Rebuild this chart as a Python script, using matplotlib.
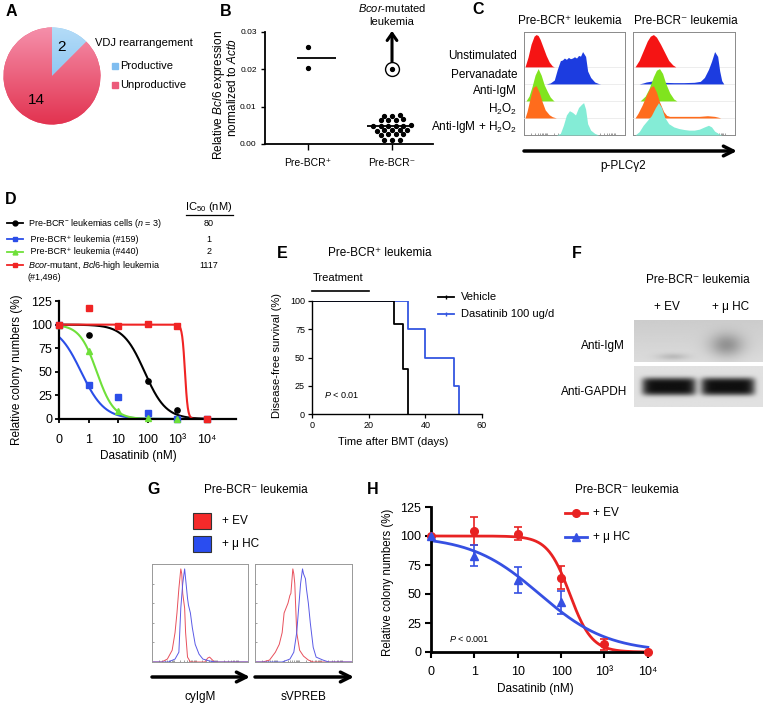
import numpy as np
import matplotlib
matplotlib.use('Agg')
import matplotlib.pyplot as plt
import matplotlib.transforms as mtransforms
from matplotlib.colors import LinearSegmentedColormap
from matplotlib.patches import Rectangle

plt.rcParams['font.family'] = ['Liberation Sans', 'DejaVu Sans']
plt.rcParams['mathtext.fontset'] = 'custom'
plt.rcParams['mathtext.rm'] = 'Liberation Sans'
plt.rcParams['mathtext.it'] = 'Liberation Sans:italic'
plt.rcParams['mathtext.bf'] = 'Liberation Sans:bold'

# ---- data ----
# A: VDJ rearrangement
vdj_labels = ['Productive', 'Unproductive']
vdj_counts = [2, 14]

# B: Bcl6 expression
bcr_pos_vals = [0.0260, 0.0203]
bcr_neg_vals = [0.0076, 0.0077, 0.0075,
                0.0065, 0.0066, 0.0064, 0.0065,
                0.0049, 0.0049, 0.0050, 0.0048, 0.0049, 0.0049,
                0.0037, 0.0036, 0.0037, 0.0038, 0.0037,
                0.0026, 0.0027, 0.0026, 0.0025,
                0.0012, 0.0011, 0.0012]
bcor_mut_val = 0.0202

# C: p-PLCg2 flow histograms, (position, relative height)
c_rows = ['Unstimulated', 'Pervanadate', 'Anti-IgM', 'H$_2$O$_2$', 'Anti-IgM + H$_2$O$_2$']
pos_unstim = [(0.01, 0), (0.04, 0.3), (0.07, 0.7), (0.10, 0.95), (0.12, 1.0), (0.14, 0.97), (0.16, 0.85),
              (0.19, 0.6), (0.22, 0.35), (0.25, 0.15), (0.28, 0.03), (0.30, 0)]
pos_perv = [(0.22, 0), (0.26, 0.03), (0.30, 0.12), (0.33, 0.45), (0.36, 0.72), (0.38, 0.74), (0.40, 0.80),
            (0.42, 0.76), (0.44, 0.82), (0.46, 0.78), (0.48, 0.80), (0.50, 0.84), (0.52, 0.80), (0.54, 0.88),
            (0.56, 0.86), (0.58, 1.0), (0.61, 0.85), (0.63, 0.4), (0.66, 0.2), (0.70, 0.06), (0.74, 0.01), (0.76, 0)]
pos_anti_igm = [(0.02, 0), (0.05, 0.15), (0.08, 0.45), (0.11, 0.8), (0.14, 1.0), (0.17, 0.8), (0.20, 0.5),
                (0.23, 0.3), (0.26, 0.12), (0.29, 0.02), (0.30, 0)]
pos_h2o2 = [(0.01, 0), (0.03, 0.2), (0.06, 0.6), (0.09, 0.95), (0.12, 1.0), (0.15, 0.8), (0.18, 0.5),
            (0.21, 0.25), (0.25, 0.1), (0.28, 0.04), (0.32, 0)]
pos_igm_h2o2 = [(0.32, 0), (0.36, 0.05), (0.39, 0.3), (0.42, 0.62), (0.45, 0.75), (0.48, 0.7), (0.51, 0.62),
                (0.54, 0.85), (0.57, 0.95), (0.59, 1.0), (0.61, 0.8), (0.63, 0.35), (0.66, 0.15), (0.70, 0.05), (0.74, 0)]
neg_unstim = [(0.02, 0), (0.06, 0.2), (0.10, 0.5), (0.14, 0.8), (0.17, 0.95), (0.20, 1.0), (0.23, 0.92),
              (0.27, 0.7), (0.31, 0.45), (0.35, 0.2), (0.39, 0.06), (0.42, 0)]
neg_perv = [(0.06, 0), (0.10, 0.03), (0.13, 0.06), (0.17, 0.08), (0.20, 0.1), (0.25, 0.08), (0.30, 0.05),
            (0.40, 0.04), (0.50, 0.04), (0.60, 0.05), (0.66, 0.08), (0.70, 0.2), (0.74, 0.45), (0.77, 0.7),
            (0.80, 1.0), (0.83, 0.85), (0.85, 0.4), (0.87, 0.1), (0.89, 0)]
neg_anti_igm = [(0.07, 0), (0.12, 0.15), (0.16, 0.4), (0.20, 0.75), (0.23, 0.95), (0.26, 1.0), (0.29, 0.85),
                (0.32, 0.55), (0.36, 0.25), (0.40, 0.06), (0.43, 0)]
neg_h2o2 = [(0.02, 0), (0.05, 0.15), (0.09, 0.4), (0.13, 0.7), (0.17, 0.95), (0.20, 1.0), (0.23, 0.8),
            (0.26, 0.5), (0.30, 0.2), (0.33, 0.08), (0.36, 0.05), (0.45, 0.05), (0.55, 0.05), (0.65, 0.05),
            (0.73, 0.07), (0.80, 0.05), (0.84, 0.02), (0.86, 0)]
neg_igm_h2o2 = [(0.02, 0), (0.06, 0.1), (0.10, 0.3), (0.14, 0.45), (0.18, 0.6), (0.22, 0.85), (0.25, 1.0),
                (0.28, 0.85), (0.31, 0.55), (0.35, 0.35), (0.40, 0.25), (0.45, 0.2), (0.50, 0.17), (0.55, 0.15),
                (0.60, 0.15), (0.65, 0.18), (0.70, 0.25), (0.74, 0.3), (0.77, 0.25), (0.80, 0.12), (0.84, 0.04), (0.87, 0)]
c_colors = ['#f51414', '#1c3ce0', '#80e41e', '#ff6c1c', '#84ecd6']

# D: colony assay
doses = [0, 1, 10, 100, 1000, 10000]
d_names = ['Pre-BCR$^{-}$ leukemias cells ($\\mathit{n}$ = 3)', ' Pre-BCR\u207a leukemia (#159)',
           ' Pre-BCR\u207a leukemia (#440)', '$\\mathit{Bcor}$-mutant, $\\mathit{Bcl6}$-high leukemia']
d_neg = [100, 89, 98.5, 40, 10, 0]
d_159 = [100, 36, 23, 6.5, 0, 0]
d_440 = [100, 72, 8, 1, 0, 0]
d_bcor = [100, 118, 98, 101, 99, 0]
d_ic50 = [80, 1, 2, 1117]
d_fit_logic50 = [1.9, -0.25, 0.28, 3.27]   # fitted curve
d_fit_slope = [1.2, 1.1, 1.5, 9.0]
d_colors = ['black', '#2b4ee8', '#6fe03a', '#f02424']
d_markers = ['o', 's', '^', 's']

# E: survival
veh_days = [0, 29, 32, 34]
veh_surv = [100, 80, 40, 0]
das_days = [0, 34, 40, 50, 52]
das_surv = [100, 75, 50, 25, 0]

# G: flow overlays
cyigm_ev = [(0.0, 0), (0.10, 0), (0.16, 0.03), (0.21, 0.12), (0.24, 0.3), (0.26, 0.5), (0.28, 0.75), (0.30, 0.95),
            (0.31, 0.9), (0.32, 0.7), (0.34, 0.55), (0.35, 0.3), (0.37, 0.05), (0.40, 0), (0.55, 0), (0.58, 0.04),
            (0.60, 0.05), (0.62, 0.03), (0.65, 0), (1.0, 0)]
cyigm_muhc = [(0.0, 0), (0.17, 0), (0.24, 0.03), (0.28, 0.1), (0.30, 0.55), (0.32, 0.8), (0.34, 0.95), (0.35, 0.85),
              (0.37, 0.65), (0.38, 0.58), (0.40, 0.5), (0.42, 0.35), (0.45, 0.18), (0.49, 0.08), (0.53, 0.03),
              (0.60, 0.01), (0.66, 0), (1.0, 0)]
svpreb_ev = [(0.0, 0), (0.08, 0), (0.15, 0.02), (0.21, 0.1), (0.25, 0.18), (0.28, 0.3), (0.30, 0.5), (0.32, 0.55),
             (0.34, 0.6), (0.36, 0.68), (0.37, 0.7), (0.39, 0.95), (0.40, 0.9), (0.41, 0.8), (0.43, 0.3), (0.46, 0.12),
             (0.50, 0.06), (0.55, 0.02), (0.60, 0), (1.0, 0)]
svpreb_muhc = [(0.0, 0), (0.28, 0), (0.36, 0.03), (0.40, 0.1), (0.43, 0.3), (0.45, 0.55), (0.47, 0.8), (0.49, 0.95),
               (0.50, 0.9), (0.52, 0.85), (0.53, 0.75), (0.55, 0.6), (0.57, 0.4), (0.60, 0.15), (0.63, 0.05),
               (0.70, 0.02), (0.76, 0), (1.0, 0)]

# H: colony assay EV vs mu HC
h_ev_mean = [100, 104, 102, 64, 6.5, 0]
h_ev_err = [0, 12, 5.5, 10, 5, 0]
h_mu_doses = [0, 1, 10, 100]
h_mu_mean = [100, 83, 62, 43]
h_mu_err = [0, 9, 11.5, 10]
h_fit_logic50 = [2.2, 1.5]
h_fit_slope = [1.7, 0.55]
ev_color = '#e82222'
mu_color = '#3650e2'

# ---- figure ----
W, H = 766, 711
fig = plt.figure(figsize=(W / 100, H / 100), dpi=100)


def box(l, t, r, b):
    return fig.add_axes([l / W, 1 - b / H, (r - l) / W, (b - t) / H])


ov = box(0, 0, W, H)
ov.set_xlim(0, W)
ov.set_ylim(H, 0)
ov.axis('off')
ov.set_zorder(10)


def txt(x, y, s, size=8.5, **kw):
    kw.setdefault('ha', 'center')
    kw.setdefault('va', 'center')
    ov.text(x, y, s, fontsize=size, **kw)


def arrow(x0, x1, y, lw=2.5):
    ov.annotate('', xy=(x1, y), xytext=(x0, y),
                arrowprops=dict(arrowstyle='->,head_width=0.35,head_length=0.7', lw=lw, color='k',
                                shrinkA=0, shrinkB=0))


def dose_pos(d):
    d = np.asarray(d, dtype=float)
    out = np.full(d.shape, -1.0)
    out[d > 0] = np.log10(d[d > 0])
    return out


def hill(pos, log_ic50, slope, top=100.0):
    return top / (1 + 10 ** ((pos - log_ic50) * slope))


def plain_axes(ax, lw):
    for s in ['top', 'right']:
        ax.spines[s].set_visible(False)
    for s in ['left', 'bottom']:
        ax.spines[s].set_linewidth(lw)


for lab, x, y in [('A', 11, 11), ('B', 226, 12), ('C', 478, 10), ('D', 11, 200),
                  ('E', 282, 253), ('F', 577, 254), ('G', 154, 489), ('H', 373, 490)]:
    txt(x, y, lab, size=11.5, weight='bold')

# ---- A ----
axA = box(3, 27, 101, 125)
wedges, _, nums = axA.pie(vdj_counts, startangle=90, counterclock=False, radius=1,
                          autopct=lambda p: f'{p * sum(vdj_counts) / 100:.0f}', pctdistance=0.62,
                          colors=['#8cc6f2', '#ec5576'], wedgeprops=dict(linewidth=0),
                          textprops=dict(fontsize=11))
grad = np.linspace(0, 1, 256).reshape(-1, 1)
for w, (c_top, c_bot) in zip(wedges, [('#b4dcf8', '#6cb2ec'), ('#f590ab', '#e2324f')]):
    cm = LinearSegmentedColormap.from_list('g', [c_top, c_bot])
    im = axA.imshow(grad, extent=(-1, 1, -1, 1), cmap=cm, aspect='auto', zorder=2)
    im.set_clip_path(w)
for t in nums:
    t.set_zorder(5)
nums[0].set_position((0.2, 0.6))
nums[1].set_position((-0.32, -0.5))
axA.set_xlim(-1.01, 1.01)
axA.set_ylim(-1.01, 1.01)
axA.axis('off')

txt(95, 43, 'VDJ rearrangement', size=8, ha='left')
for lab, col, y in zip(vdj_labels, ['#7fbdf0', '#ec5a7a'], [66, 85]):
    ov.add_patch(Rectangle((112, y - 3), 5.5, 5.5, color=col))
    txt(120, y, lab, size=8, ha='left')

# ---- B ----
axB = box(265, 32, 433, 144)
axB.set_xlim(0.488, 2.488)
axB.set_ylim(0, 0.03)
plain_axes(axB, 1.3)
axB.plot(np.ones(len(bcr_pos_vals)), bcr_pos_vals, 'o', color='k', ms=2.8)
axB.hlines(np.median(bcr_pos_vals), 0.87, 1.33, color='k', lw=1.3)

# simple beeswarm: spread near-equal values sideways
neg_sorted = np.sort(bcr_neg_vals)
groups, cur = [], [neg_sorted[0]]
for v in neg_sorted[1:]:
    if v - cur[0] > 0.0005:
        groups.append(cur)
        cur = [v]
    else:
        cur.append(v)
groups.append(cur)
for g in groups:
    offs = (np.arange(len(g)) - (len(g) - 1) / 2) * 0.09
    axB.plot(2 + offs, g, 'o', color='k', ms=2.8)
axB.hlines(np.median(bcr_neg_vals), 1.70, 2.21, color='k', lw=1.3, zorder=3)
axB.plot(2, bcor_mut_val, 'o', color='k', ms=2.8)
axB.plot(2, bcor_mut_val, 'o', mfc='none', mec='k', mew=1.0, ms=10)
axB.annotate('', xy=(2, 0.0303), xytext=(2, 0.0221), annotation_clip=False,
             arrowprops=dict(arrowstyle='->,head_width=0.35,head_length=0.5', lw=2.2, color='k',
                             shrinkA=0, shrinkB=0))
axB.set_yticks([0, 0.01, 0.02, 0.03])
axB.set_yticklabels(['0.00', '0.01', '0.02', '0.03'])
axB.set_xticks([1, 2])
axB.set_xticklabels(['Pre-BCR\u207a', 'Pre-BCR\u207b'])
axB.tick_params(axis='y', labelsize=6, length=3, width=1, pad=3)
axB.tick_params(axis='x', labelsize=7.5, length=4, width=1, pad=6)
txt(392, 8, '$\\mathit{Bcor}$-mutated', size=8)
txt(392, 22, 'leukemia', size=8)
txt(219, 95, 'Relative $\\mathit{Bcl6}$ expression', size=8.5, rotation=90)
txt(233, 88, 'normalized to $\\mathit{Actb}$', size=8.5, rotation=90)

# ---- C ----
axC1 = box(524, 32, 625, 135)
axC2 = box(633, 32, 735, 135)
for ax, hists in [(axC1, [pos_unstim, pos_perv, pos_anti_igm, pos_h2o2, pos_igm_h2o2]),
                  (axC2, [neg_unstim, neg_perv, neg_anti_igm, neg_h2o2, neg_igm_h2o2])]:
    for i, (pts, col) in enumerate(zip(hists, c_colors)):
        base = 4 - i
        x, h = np.array(pts).T
        ax.axhline(base, color='#e6e6e6', lw=0.5, zorder=i)
        ax.fill_between(x, base, base + 1.9 * h, color=col, lw=0, zorder=i + 0.5)
    ax.set_xlim(0, 1)
    ax.set_ylim(0, 6.05)
    for s in ax.spines.values():
        s.set_color('#8a8a8a')
        s.set_linewidth(0.7)
    ax.set_yticks([])
    ax.set_xticks([(d + np.log10(k)) / 4.4 for d in range(4) for k in range(1, 10)])
    ax.tick_params(axis='x', direction='in', length=1.5, width=0.5, color='#777777', labelbottom=False)
txt(570, 21, 'Pre-BCR\u207a leukemia', size=8.5)
txt(686, 21, 'Pre-BCR\u207b leukemia', size=8.5)
for lab, y in zip(c_rows, [56, 75, 91, 109, 127]):
    txt(517, y, lab, size=8.5, ha='right')
arrow(524, 737, 151)
txt(623, 166, 'p-PLC\u03b32', size=8.5)

# ---- D ----
axD = box(59, 301, 236, 419)
xs = np.linspace(-1, 4.05, 400)
d_vals = [d_neg, d_159, d_440, d_bcor]
for vals, L, s, col, mk in zip(d_vals, d_fit_logic50, d_fit_slope, d_colors, d_markers):
    axD.plot(xs, hill(xs, L, s), color=col, lw=1.5, zorder=2)
    axD.plot(dose_pos(doses), vals, mk, color=col, ms=4.2 if mk == 's' else 3.8, lw=0, zorder=3, clip_on=False)
axD.set_xlim(-1, 5)
axD.set_ylim(0, 125)
plain_axes(axD, 1.6)
axD.set_yticks([0, 25, 50, 75, 100, 125])
axD.set_xticks(dose_pos(doses))
axD.set_xticklabels(['0', '1', '10', '100', '10\u00b3', '10\u2074'])
axD.tick_params(labelsize=9, length=3, width=1.3)
axD.tick_params(axis='x', pad=8)
axD.tick_params(axis='y', pad=2)
txt(17, 370, 'Relative colony numbers (%)', size=8.5, rotation=90)
txt(138, 456, 'Dasatinib (nM)', size=8.5)
for name, ic, col, mk, y in zip(d_names, d_ic50, d_colors, d_markers, [223, 239, 252, 265]):
    ov.plot([7, 23], [y, y], color=col, lw=1.3)
    ov.plot(15, y, mk, color=col, ms=3.5)
    txt(28, y, name, size=6.5, ha='left')
    txt(209, y, str(ic), size=6.5)
txt(28, 277, '(#1,496)', size=6.5, ha='left')
txt(209, 207, 'IC$_{50}$ (nM)', size=8)
ov.plot([186, 233], [215, 215], color='k', lw=0.9)

# ---- E ----
axE = box(312, 301, 482, 414)
axE.step(das_days, das_surv, where='post', color='#3456e0', lw=1.3)
axE.step(veh_days, veh_surv, where='post', color='k', lw=1.3)
axE.set_xlim(0, 60)
axE.set_ylim(0, 100)
plain_axes(axE, 1.0)
axE.set_xticks([0, 20, 40, 60])
axE.set_yticks([0, 25, 50, 75, 100])
axE.tick_params(labelsize=6.5, length=3, width=0.9, pad=2)
trE = mtransforms.blended_transform_factory(axE.transData, axE.transAxes)
axE.plot([0, 20], [1.088, 1.088], color='k', lw=1.2, transform=trE, clip_on=False)
txt(338, 278, 'Treatment', size=8)
txt(380, 253, 'Pre-BCR\u207a leukemia', size=8.5)
txt(277, 356, 'Disease-free survival (%)', size=8, rotation=90)
txt(393, 442, 'Time after BMT (days)', size=8)
txt(342, 395, '$\\mathit{P}$ < 0.01', size=6.5)
for lab, col, y in [('Vehicle', 'k', 297), ('Dasatinib 100 ug/d', '#3456e0', 314)]:
    ov.plot([438, 454], [y, y], color=col, lw=1.3)
    ov.plot([446], [y], color=col, marker='|', ms=3.5)
    txt(461, y, lab, size=8, ha='left')

# ---- F ----
yy, xx = np.mgrid[0:1:60j, 0:1:130j]
igm_blot = (0.80 + 0.06 * yy
            - 0.26 * np.exp(-((xx - 0.72) / 0.13) ** 2 - ((yy - 0.6) / 0.28) ** 2)
            - 0.12 * np.exp(-((xx - 0.30) / 0.12) ** 2 - ((yy - 0.88) / 0.08) ** 2))
gapdh_blot = 0.88 - 0.82 * np.exp(-(((xx - 0.27) / 0.21) ** 8 + ((yy - 0.5) / 0.22) ** 4)) \
                  - 0.82 * np.exp(-(((xx - 0.73) / 0.21) ** 8 + ((yy - 0.5) / 0.22) ** 4))
for (t, b), img in [((320, 362), igm_blot), ((366, 407), gapdh_blot)]:
    axF = box(634, t, 763, b)
    axF.imshow(img, cmap='gray', vmin=0, vmax=1, aspect='auto', interpolation='bilinear')
    axF.axis('off')
txt(698, 280, 'Pre-BCR\u207b leukemia', size=8.5)
txt(667, 307, '+ EV', size=8.5)
txt(731, 307, '+ \u03bc HC', size=8.5)
txt(625, 346, 'Anti-IgM', size=8.5, ha='right')
txt(627, 392, 'Anti-GAPDH', size=8.5, ha='right')

# ---- G ----
for (l, r), ev, mu, lab in [((152, 248), cyigm_ev, cyigm_muhc, 'cyIgM'),
                            ((255, 352), svpreb_ev, svpreb_muhc, 'sVPREB')]:
    axG = box(l, 564, r, 662)
    for pts, col in [(ev, '#e8505c'), (mu, '#5a5ae6')]:
        x, h = np.array(pts).T
        axG.plot(x, h, color=col, lw=0.7)
    axG.set_xlim(0, 1)
    axG.set_ylim(0, 1)
    for s in axG.spines.values():
        s.set_color('#999999')
        s.set_linewidth(0.7)
    axG.set_yticks([0.2, 0.4, 0.6, 0.8, 1.0])
    axG.set_xticks([(d + np.log10(k)) / 4.4 for d in range(4) for k in range(1, 10)])
    axG.tick_params(direction='in', length=1.5, width=0.5, color='#777777',
                    labelbottom=False, labelleft=False)
    arrow(l, r + 2, 677)
    txt((l + r) / 2, 697, lab, size=8.5)
txt(256, 490, 'Pre-BCR\u207b leukemia', size=8.5)
for lab, col, y in [('+ EV', '#f52a2a', 521), ('+ \u03bc HC', '#2a4df0', 544)]:
    ov.add_patch(Rectangle((193, y - 8), 18, 16, fc=col, ec='#333333', lw=0.8))
    txt(222, y, lab, size=8.5, ha='left')

# ---- H ----
axH = box(431, 507, 650, 652)
xs = np.linspace(-1, 4, 400)
for L, s, col in zip(h_fit_logic50, h_fit_slope, [ev_color, mu_color]):
    axH.plot(xs, hill(xs, L, s), color=col, lw=2, zorder=2)
axH.errorbar(dose_pos(doses), h_ev_mean, yerr=h_ev_err, fmt='o', color=ev_color, ms=5.5,
             capsize=3, elinewidth=1.2, capthick=1.2, zorder=3, clip_on=False)
axH.errorbar(dose_pos(h_mu_doses), h_mu_mean, yerr=h_mu_err, fmt='^', color=mu_color, ms=5.5,
             capsize=3, elinewidth=1.2, capthick=1.2, zorder=3, clip_on=False)
axH.set_xlim(-1, 4.05)
axH.set_ylim(0, 125)
plain_axes(axH, 2.0)
axH.set_yticks([0, 25, 50, 75, 100, 125])
axH.set_xticks(dose_pos(doses))
axH.set_xticklabels(['0', '1', '10', '100', '10\u00b3', '10\u2074'])
axH.tick_params(labelsize=9, length=4, width=1.5)
axH.tick_params(axis='x', pad=6)
axH.tick_params(axis='y', pad=3)
txt(388, 582, 'Relative colony numbers (%)', size=8.3, rotation=90)
txt(535, 689, 'Dasatinib (nM)', size=8.5)
txt(627, 490, 'Pre-BCR\u207b leukemia', size=8.5)
txt(469, 639, '$\\mathit{P}$ < 0.001', size=6.5)
for lab, col, mk, y in [('+ EV', ev_color, 'o', 513), ('+ \u03bc HC', mu_color, '^', 537)]:
    ov.plot([565, 587], [y, y], color=col, lw=2)
    ov.plot(576, y, mk, color=col, ms=5.5)
    txt(593, y, lab, size=8.5, ha='left')

fig.savefig('out.png', dpi=100)
